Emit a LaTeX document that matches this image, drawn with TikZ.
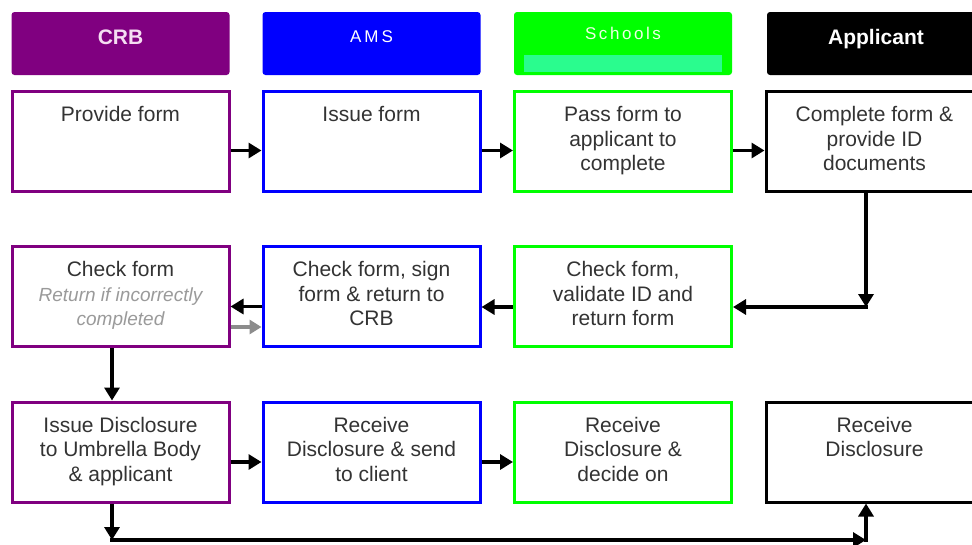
\documentclass[tikz,border=0pt]{standalone}
\usepackage{fontspec}
\setmainfont{Liberation Sans}
\usetikzlibrary{arrows.meta}
\definecolor{crbc}{HTML}{800080}
\definecolor{amsc}{HTML}{0000FF}
\definecolor{schc}{HTML}{00FF00}
\definecolor{mint}{HTML}{2AFC8E}
\definecolor{txt}{HTML}{333333}
\definecolor{note}{HTML}{9A9A9A}
\definecolor{crbtext}{HTML}{F5DDF2}
\definecolor{schtext}{HTML}{EEFFE6}
\definecolor{garrc}{HTML}{8C8C8C}
\newcommand{\bxt}[1]{\parbox[c][94pt][t]{210pt}{\centering\vspace*{10pt}\strut#1}}
\begin{document}
\begin{tikzpicture}[x=1pt,y=-1pt,
  box/.style={draw, line width=3pt, minimum width=217pt, minimum height=100pt,
    inner sep=0pt, fill=white, text=txt, font=\fontsize{21}{24.5}\selectfont},
  hdr/.style={rounded corners=3pt, minimum width=218pt, minimum height=63pt, inner sep=0pt},
  arr/.style={line width=3.8pt, -{Triangle[length=13pt,width=15pt]}},
  garr/.style={line width=3.8pt, draw=garrc, -{Triangle[length=12pt,width=14pt]}}]
\fill[white] (0,0) rectangle (972,544);
\useasboundingbox (0,0) rectangle (972,544);
% headers
\node[hdr, fill=crbc, text=crbtext, font=\bfseries\fontsize{21}{24}\selectfont,
  text height=12pt, text depth=10pt] (hCRB) at (120.5,43.5) {CRB};
\node[hdr, fill=amsc, text=white, font=\fontsize{17}{20}\selectfont\addfontfeatures{LetterSpace=18},
  text height=10pt, text depth=11.5pt] (hAMS) at (371.5,43.5) {AMS};
\node[hdr, fill=schc, text=schtext, font=\fontsize{17}{20}\selectfont\addfontfeatures{LetterSpace=15},
  text height=6pt, text depth=15pt] (hSCH) at (623,43.5) {Schools};
\fill[mint] (524,55) rectangle (722,72);
\node[hdr, fill=black, text=white, font=\bfseries\fontsize{21}{24}\selectfont,
  text height=12pt, text depth=10pt] (hAPP) at (876,43.5) {Applicant};
% row 1
\node[box, draw=crbc] (b11) at (120.5,141.5) {\bxt{Provide form}};
\node[box, draw=amsc] (b12) at (371.5,141.5) {\bxt{Issue form}};
\node[box, draw=schc] (b13) at (623,141.5) {\bxt{Pass form to\\applicant to\\complete}};
\node[box, draw=black] (b14) at (874.5,141.5) {\bxt{Complete form \&\\provide ID\\documents}};
% row 2
\node[box, draw=crbc] (b21) at (120.5,296.5) {\bxt{Check form\\{\color{note}\itshape\fontsize{19}{24.5}\selectfont Return if incorrectly\\completed}}};
\node[box, draw=amsc] (b22) at (371.5,296.5) {\bxt{Check form, sign\\form \& return to\\CRB}};
\node[box, draw=schc] (b23) at (623,296.5) {\bxt{Check form,\\validate ID and\\return form}};
% row 3
\node[box, draw=crbc] (b31) at (120.5,452) {\bxt{Issue Disclosure\\to Umbrella Body\\\& applicant}};
\node[box, draw=amsc] (b32) at (371.5,452) {\bxt{Receive\\Disclosure \& send\\to client}};
\node[box, draw=schc] (b33) at (623,452) {\bxt{Receive\\Disclosure \&\\decide on}};
\node[box, draw=black] (b34) at (874.5,452) {\bxt{Receive\\Disclosure}};
% connectors row 1
\draw[arr] ([yshift=-9pt]b11.east) -- ([yshift=-9pt]b12.west);
\draw[arr] ([yshift=-9pt]b12.east) -- ([yshift=-9pt]b13.west);
\draw[arr] ([yshift=-9pt]b13.east) -- ([yshift=-9pt]b14.west);
% applicant to schools
\coordinate (k1) at (866,307);
\draw[arr] ([xshift=-8.5pt]b14.south) -- (k1);
\draw[arr] ([xshift=1.9pt]k1) -- (b23.east |- k1);
% row 2
\draw[arr] ([yshift=-10pt]b22.west) -- ([yshift=-10pt]b21.east);
\draw[arr] ([yshift=-10.5pt]b23.west) -- ([yshift=-10.5pt]b22.east);
\draw[garr] ([yshift=-30.5pt]b21.east) -- ([yshift=-30.5pt]b22.west);
\draw[arr] ([xshift=-8.5pt]b21.south) -- ([xshift=-8.5pt]b31.north);
% row 3
\draw[arr] ([yshift=-10pt]b31.east) -- ([yshift=-10pt]b32.west);
\draw[arr] ([yshift=-10pt]b32.east) -- ([yshift=-10pt]b33.west);
% bottom return
\coordinate (k2) at (112,540);
\coordinate (k3) at (866,540);
\draw[arr] ([xshift=-8.5pt]b31.south) -- (k2);
\draw[arr] ([xshift=-1.9pt]k2) -- (k3);
\draw[arr] ([yshift=-1.9pt]k3) -- ([xshift=-8.5pt]b34.south);
\end{tikzpicture}
\end{document}
